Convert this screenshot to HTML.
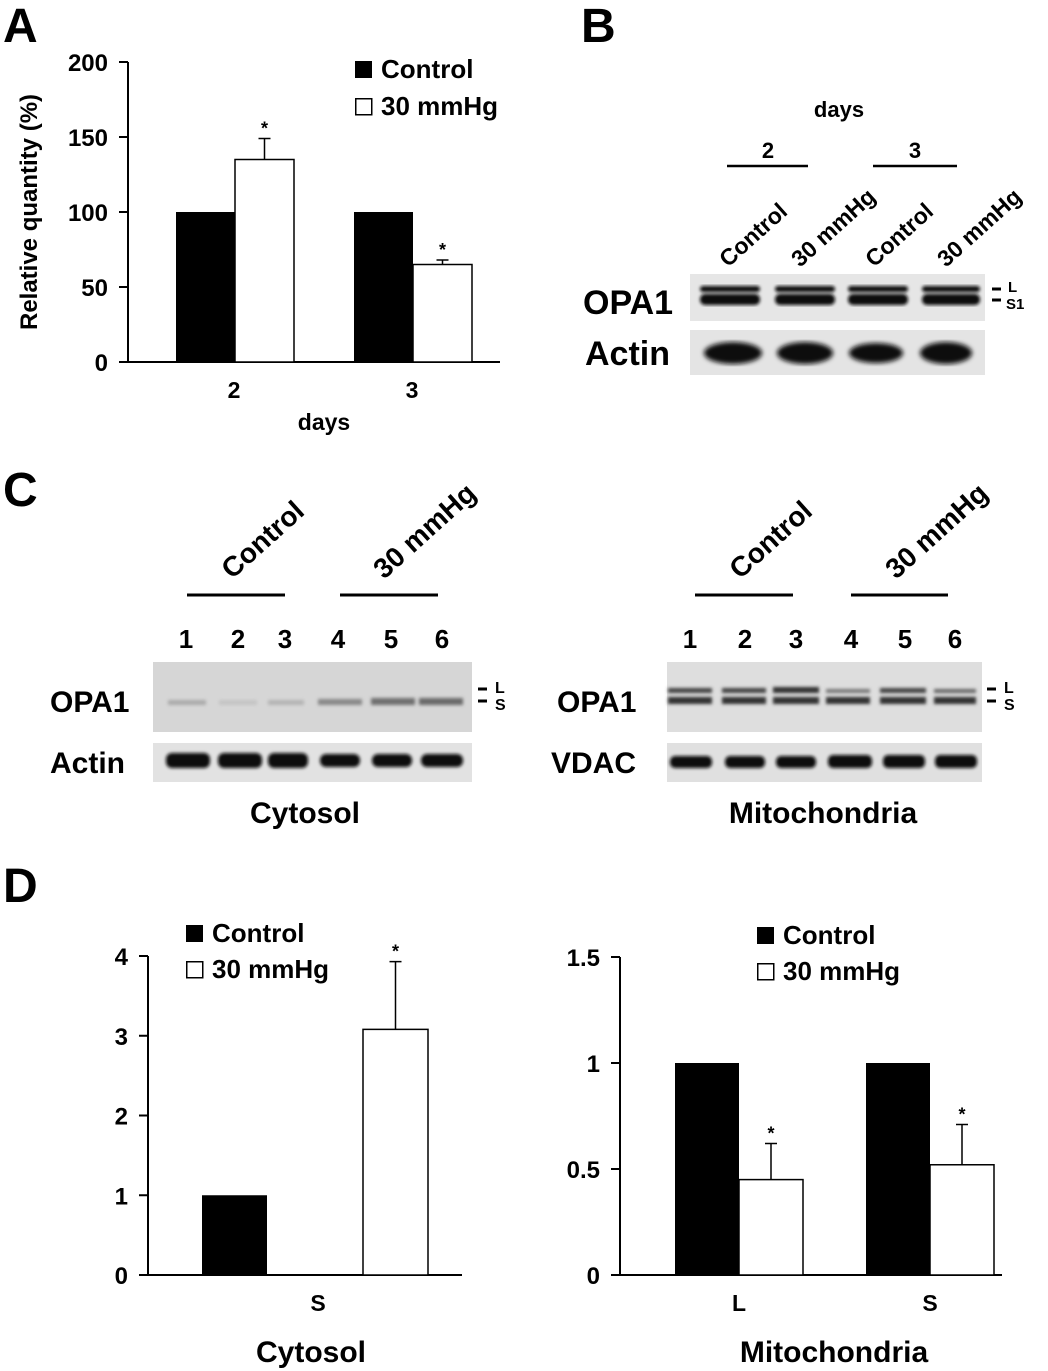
<!DOCTYPE html>
<html><head><meta charset="utf-8"><style>
body{margin:0;background:#fff}
svg{display:block;font-family:"Liberation Sans",Arial,sans-serif;font-weight:bold}
</style></head><body>
<svg id="fig" width="1048" height="1371" viewBox="0 0 1048 1371">
<defs>
<filter id="blur1"><feGaussianBlur stdDeviation="1.6"/></filter>
<filter id="blur2"><feGaussianBlur stdDeviation="2.5"/></filter>
</defs>
<text x="3" y="42" font-size="48">A</text>
<text x="581" y="42" font-size="48">B</text>
<text x="3" y="506" font-size="48">C</text>
<text x="3" y="902" font-size="48">D</text>

<g>
<text x="839" y="117" font-size="22" text-anchor="middle">days</text>
<text x="768" y="158" font-size="22" text-anchor="middle">2</text>
<text x="915" y="158" font-size="22" text-anchor="middle">3</text>
<line x1="727" y1="166" x2="808" y2="166" stroke="#000" stroke-width="2.5"/>
<line x1="873" y1="166" x2="957" y2="166" stroke="#000" stroke-width="2.5"/>
<text transform="translate(728,268) rotate(-42)" font-size="23">Control</text>
<text transform="translate(800,268) rotate(-42)" font-size="23">30 mmHg</text>
<text transform="translate(874,268) rotate(-42)" font-size="23">Control</text>
<text transform="translate(946,268) rotate(-42)" font-size="23">30 mmHg</text>
<text x="583" y="314" font-size="34">OPA1</text>
<text x="585" y="365" font-size="34">Actin</text>
<rect x="690" y="274" width="295" height="47" fill="#e6e6e6"/>
<rect x="690" y="330" width="295" height="45" fill="#e4e4e4"/>
<g filter="url(#blur1)" fill="#111">
<rect x="700" y="286" width="60" height="6" rx="3"/><rect x="700" y="294" width="60" height="11" rx="5"/>
<rect x="775" y="286" width="60" height="6" rx="3"/><rect x="775" y="294" width="60" height="11" rx="5"/>
<rect x="848" y="286" width="60" height="6" rx="3"/><rect x="848" y="294" width="60" height="11" rx="5"/>
<rect x="922" y="286" width="58" height="6" rx="3"/><rect x="922" y="294" width="58" height="11" rx="5"/>
</g>
<g filter="url(#blur2)" fill="#111">
<ellipse cx="733" cy="353" rx="29" ry="11"/><ellipse cx="805" cy="353" rx="28" ry="11"/>
<ellipse cx="876" cy="353" rx="27" ry="10"/><ellipse cx="946" cy="353" rx="26" ry="11"/>
</g>
<line x1="992" y1="289" x2="1001" y2="289" stroke="#000" stroke-width="3"/>
<line x1="992" y1="300" x2="1001" y2="300" stroke="#000" stroke-width="3"/>
<text x="1008" y="292" font-size="15">L</text>
<text x="1006" y="309" font-size="15">S1</text>
</g>

<g>
<text transform="translate(232,580) rotate(-42)" font-size="28">Control</text>
<text transform="translate(384,580) rotate(-42)" font-size="28">30 mmHg</text>
<line x1="187" y1="595" x2="285" y2="595" stroke="#000" stroke-width="3"/>
<line x1="340" y1="595" x2="438" y2="595" stroke="#000" stroke-width="3"/>
<text transform="translate(740,580) rotate(-42)" font-size="28">Control</text>
<text transform="translate(896,580) rotate(-42)" font-size="28">30 mmHg</text>
<line x1="695" y1="595" x2="793" y2="595" stroke="#000" stroke-width="3"/>
<line x1="851" y1="595" x2="948" y2="595" stroke="#000" stroke-width="3"/>
<g font-size="26" text-anchor="middle">
<text x="186" y="648">1</text><text x="238" y="648">2</text><text x="285" y="648">3</text><text x="338" y="648">4</text><text x="391" y="648">5</text><text x="442" y="648">6</text>
<text x="690" y="648">1</text><text x="745" y="648">2</text><text x="796" y="648">3</text><text x="851" y="648">4</text><text x="905" y="648">5</text><text x="955" y="648">6</text>
</g>
<text x="50" y="712" font-size="30">OPA1</text>
<text x="50" y="773" font-size="30">Actin</text>
<text x="557" y="712" font-size="30">OPA1</text>
<text x="551" y="773" font-size="30">VDAC</text>
<rect x="153" y="662" width="319" height="70" fill="#d6d6d6"/>
<rect x="153" y="743" width="319" height="39" fill="#e2e2e2"/>
<rect x="667" y="662" width="315" height="70" fill="#dedede"/>
<rect x="667" y="743" width="315" height="39" fill="#e0e0e0"/>
<g filter="url(#blur1)">
<rect x="168" y="700" width="38" height="5" fill="#aaa"/><rect x="219" y="700" width="38" height="5" fill="#c4c4c4"/><rect x="268" y="700" width="36" height="5" fill="#b4b4b4"/>
<rect x="318" y="699" width="44" height="6" fill="#888"/><rect x="371" y="698" width="44" height="7" fill="#707070"/><rect x="419" y="698" width="44" height="7" fill="#6a6a6a"/>
<rect x="166" y="753" width="44" height="15" rx="6" fill="#111"/><rect x="218" y="753" width="44" height="15" rx="6" fill="#111"/><rect x="268" y="753" width="40" height="15" rx="6" fill="#111"/>
<rect x="320" y="754" width="40" height="13" rx="6" fill="#111"/><rect x="372" y="754" width="40" height="13" rx="6" fill="#111"/><rect x="421" y="754" width="42" height="13" rx="6" fill="#111"/>
<g fill="#444"><rect x="668" y="688" width="44" height="5"/><rect x="722" y="688" width="44" height="5"/><rect x="773" y="687" width="46" height="6" fill="#333"/><rect x="826" y="689" width="44" height="4" fill="#777"/><rect x="880" y="688" width="46" height="5"/><rect x="934" y="689" width="42" height="4" fill="#666"/></g>
<g fill="#333"><rect x="668" y="697" width="44" height="7"/><rect x="722" y="697" width="44" height="7"/><rect x="773" y="697" width="46" height="7"/><rect x="826" y="697" width="44" height="7"/><rect x="880" y="697" width="46" height="7"/><rect x="934" y="697" width="42" height="7"/></g>
<g fill="#111"><rect x="670" y="756" width="42" height="12" rx="5"/><rect x="725" y="756" width="40" height="12" rx="5"/><rect x="776" y="756" width="40" height="12" rx="5"/><rect x="828" y="755" width="44" height="13" rx="5"/><rect x="883" y="755" width="42" height="13" rx="5"/><rect x="935" y="755" width="42" height="13" rx="5"/></g>
</g>
<line x1="478" y1="689" x2="487" y2="689" stroke="#000" stroke-width="3"/><line x1="478" y1="701" x2="487" y2="701" stroke="#000" stroke-width="3"/>
<text x="495" y="693" font-size="16">L</text><text x="495" y="710" font-size="16">S</text>
<line x1="987" y1="689" x2="996" y2="689" stroke="#000" stroke-width="3"/><line x1="987" y1="701" x2="996" y2="701" stroke="#000" stroke-width="3"/>
<text x="1004" y="693" font-size="16">L</text><text x="1004" y="710" font-size="16">S</text>
<text x="305" y="823" font-size="30" text-anchor="middle">Cytosol</text>
<text x="823" y="823" font-size="30" text-anchor="middle">Mitochondria</text>
</g>
<g id="charts"></g>
</svg>
<script>
// Panel A data
const aCategories = ["2", "3"];
const aControl = [100, 100];
const aTreated = [135, 65];
const aTreatedErr = [14, 3];
const aTicks = [0, 50, 100, 150, 200];
// Panel D cytosol
const dcCategories = ["S"];
const dcControl = [1];
const dcTreated = [3.08];
const dcTreatedErr = [0.85];
const dcTicks = [0, 1, 2, 3, 4];
// Panel D mitochondria
const dmCategories = ["L", "S"];
const dmControl = [1, 1];
const dmTreated = [0.45, 0.52];
const dmTreatedErr = [0.17, 0.19];
const dmTicks = [0, 0.5, 1, 1.5];

const NS = "http://www.w3.org/2000/svg";
const root = document.getElementById("charts");
function mk(tag, attrs, parent) {
  const e = document.createElementNS(NS, tag);
  for (const k in attrs) e.setAttribute(k, attrs[k]);
  (parent || root).appendChild(e);
  return e;
}
function chart(o) {
  const g = mk("g", {});
  
  
  const y = v => o.y0 - (v - o.vmin) / (o.vmax - o.vmin) * (o.y0 - o.y1);
  const ax = mk("line", {x1: o.x0, y1: o.y1, x2: o.x0, y2: o.y0, stroke: "#000", "stroke-width": 2}, g);
  
  
  const xa = mk("line", {x1: o.x0 - 7, y1: o.y0, x2: o.xEnd, y2: o.y0, stroke: "#000", "stroke-width": 2}, g);
  
  
  o.ticks.forEach(t => {
    mk("line", {x1: o.x0 - 9, y1: y(t), x2: o.x0, y2: y(t), stroke: "#000", "stroke-width": 2}, g);
    const tl = mk("text", {x: o.x0 - 20, y: y(t) + 9, "font-size": o.tfs, "text-anchor": "end"}, g);
    tl.textContent = t;
    
    
  });
  o.cats.forEach((c, i) => {
    const cx = o.catX[i];
    const b1 = mk("rect", {x: cx - o.bw, y: y(o.ctrl[i]), width: o.bw, height: o.y0 - y(o.ctrl[i]), fill: "#000"}, g);
    
    
    const tx = cx + o.trtOff;
    const b2 = mk("rect", {x: tx, y: y(o.trt[i]), width: o.bw, height: o.y0 - y(o.trt[i]), fill: "#fff", stroke: "#000", "stroke-width": 1.5}, g);
    
    
    const ex = tx + o.bw / 2, et = y(o.trt[i] + o.err[i]);
    const el = mk("path", {d: `M${ex},${y(o.trt[i])}V${et}M${ex - 6},${et}H${ex + 6}`, stroke: "#000", "stroke-width": 1.5, fill: "none"}, g);
    
    
    const st = mk("text", {x: ex, y: et - 4, "font-size": 18, "text-anchor": "middle"}, g);
    st.textContent = "*";
    
    
    const xl = mk("text", {x: o.labX[i], y: o.y0 + 36, "font-size": 23, "text-anchor": "middle"}, g);
    xl.textContent = c;
    
    
  });
  const lg = mk("g", {}, g);
  
  
  mk("rect", {x: o.lx, y: o.ly, width: 17, height: 17, fill: "#000"}, lg);
  const t1 = mk("text", {x: o.lx + 26, y: o.ly + 17, "font-size": o.lfs}, lg); t1.textContent = "Control";
  mk("rect", {x: o.lx + 0.75, y: o.ly + o.lgap + 0.75, width: 16, height: 16, fill: "#fff", stroke: "#000", "stroke-width": 1.5}, lg);
  const t2 = mk("text", {x: o.lx + 26, y: o.ly + o.lgap + 17, "font-size": o.lfs}, lg); t2.textContent = "30 mmHg";
}
chart({name: "panel-a-chart", x0: 128, xEnd: 500, y0: 362, y1: 62, vmin: 0, vmax: 200, ticks: aTicks, tfs: 24,
  cats: aCategories, ctrl: aControl, trt: aTreated, err: aTreatedErr, catX: [235, 413], labX: [234, 412],
  bw: 59, trtOff: 0, lx: 355, ly: 61, lgap: 37, lfs: 26});
chart({name: "panel-d-cytosol-chart", x0: 148, xEnd: 462, y0: 1275, y1: 956, vmin: 0, vmax: 4, ticks: dcTicks, tfs: 24,
  cats: dcCategories, ctrl: dcControl, trt: dcTreated, err: dcTreatedErr, catX: [267], labX: [318],
  bw: 65, trtOff: 96, lx: 186, ly: 925, lgap: 36, lfs: 26});
chart({name: "panel-d-mito-chart", x0: 620, xEnd: 1002, y0: 1275, y1: 957, vmin: 0, vmax: 1.5, ticks: dmTicks, tfs: 24,
  cats: dmCategories, ctrl: dmControl, trt: dmTreated, err: dmTreatedErr, catX: [739, 930], labX: [739, 930],
  bw: 64, trtOff: 0, lx: 757, ly: 927, lgap: 36, lfs: 26});

const yt = mk("text", {transform: "translate(37,212) rotate(-90)", "font-size": 24, "text-anchor": "middle"});
yt.textContent = "Relative quantity (%)";


const xt = mk("text", {x: 324, y: 430, "font-size": 23, "text-anchor": "middle"});
xt.textContent = "days";


const c1 = mk("text", {x: 311, y: 1362, "font-size": 30, "text-anchor": "middle"});
c1.textContent = "Cytosol";


const c2 = mk("text", {x: 834, y: 1362, "font-size": 30, "text-anchor": "middle"});
c2.textContent = "Mitochondria";


</script>
</body></html>
